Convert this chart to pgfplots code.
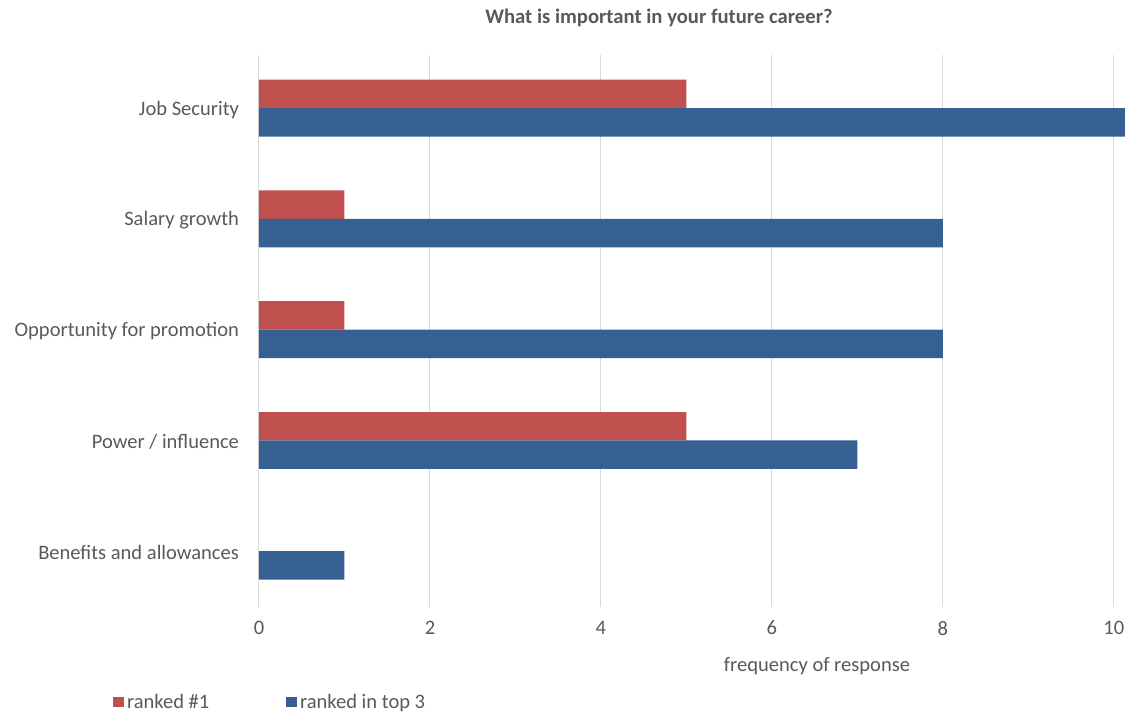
\documentclass[border=0pt]{standalone}
\usepackage{pgfplots}
\pgfplotsset{compat=1.18}
\usepackage{fontspec}
\setmainfont{Carlito}
\definecolor{cred}{HTML}{C0504D}
\definecolor{cblue}{HTML}{366092}
\definecolor{txt}{HTML}{595959}
\definecolor{grd}{HTML}{D9D9D9}
\begin{document}
\begin{tikzpicture}
\useasboundingbox (-194.25pt,-79.2pt) rectangle (649.5pt,455.55pt);
\begin{axis}[
  at={(0,0)}, anchor=south west,
  scale only axis, width=649.5pt, height=414.3pt,
  xbar, bar width=0.257,
  xmin=0, xmax=10.13, ymin=-0.48, ymax=4.507, y dir=reverse,
  xtick={0,2,4,6,8,10}, ytick={0,1,2,3,4},
  yticklabels={Job Security, Salary growth, Opportunity for promotion, Power / influence, Benefits and allowances},
  xmajorgrids, major grid style={grd, line width=0.75pt},
  axis line style={draw=none}, major tick length=0pt,
  ticklabel style={font=\fontsize{15.4}{18}\selectfont, text=txt},
  /pgf/number format/assume math mode=true,
  xticklabel style={anchor=center, yshift=-15.5pt},
  yticklabel style={anchor=east, xshift=-11.5pt, yshift=-1.2pt},
  legend columns=2,
  legend style={at={(-0.1731,-0.1713)}, anchor=west, draw=none, fill=none,
    font=\fontsize{15.4}{18}\selectfont, text=txt,
    /tikz/every even column/.append style={column sep=55.75pt}},
  legend image code/.code={\fill[#1] (-2.25pt,-4.1pt) rectangle (6pt,4.1pt);},
]
\addplot[fill=cred, draw=none, bar shift=-0.1285] coordinates {(5,0) (1,1) (1,2) (5,3)};
\addplot[fill=cblue, draw=none, bar shift=0.1285] coordinates {(11,0) (8,1) (8,2) (7,3) (1,4)};
\legend{ranked \#1, ranked in top 3}
\end{axis}
\node[font=\bfseries\fontsize{15.5}{18}\selectfont, text=txt] at (300pt,442.05pt) {What is important in your future career?};
\node[font=\fontsize{15.4}{18}\selectfont, text=txt] at (418.5pt,-43.95pt) {frequency of response};
\end{tikzpicture}
\end{document}
